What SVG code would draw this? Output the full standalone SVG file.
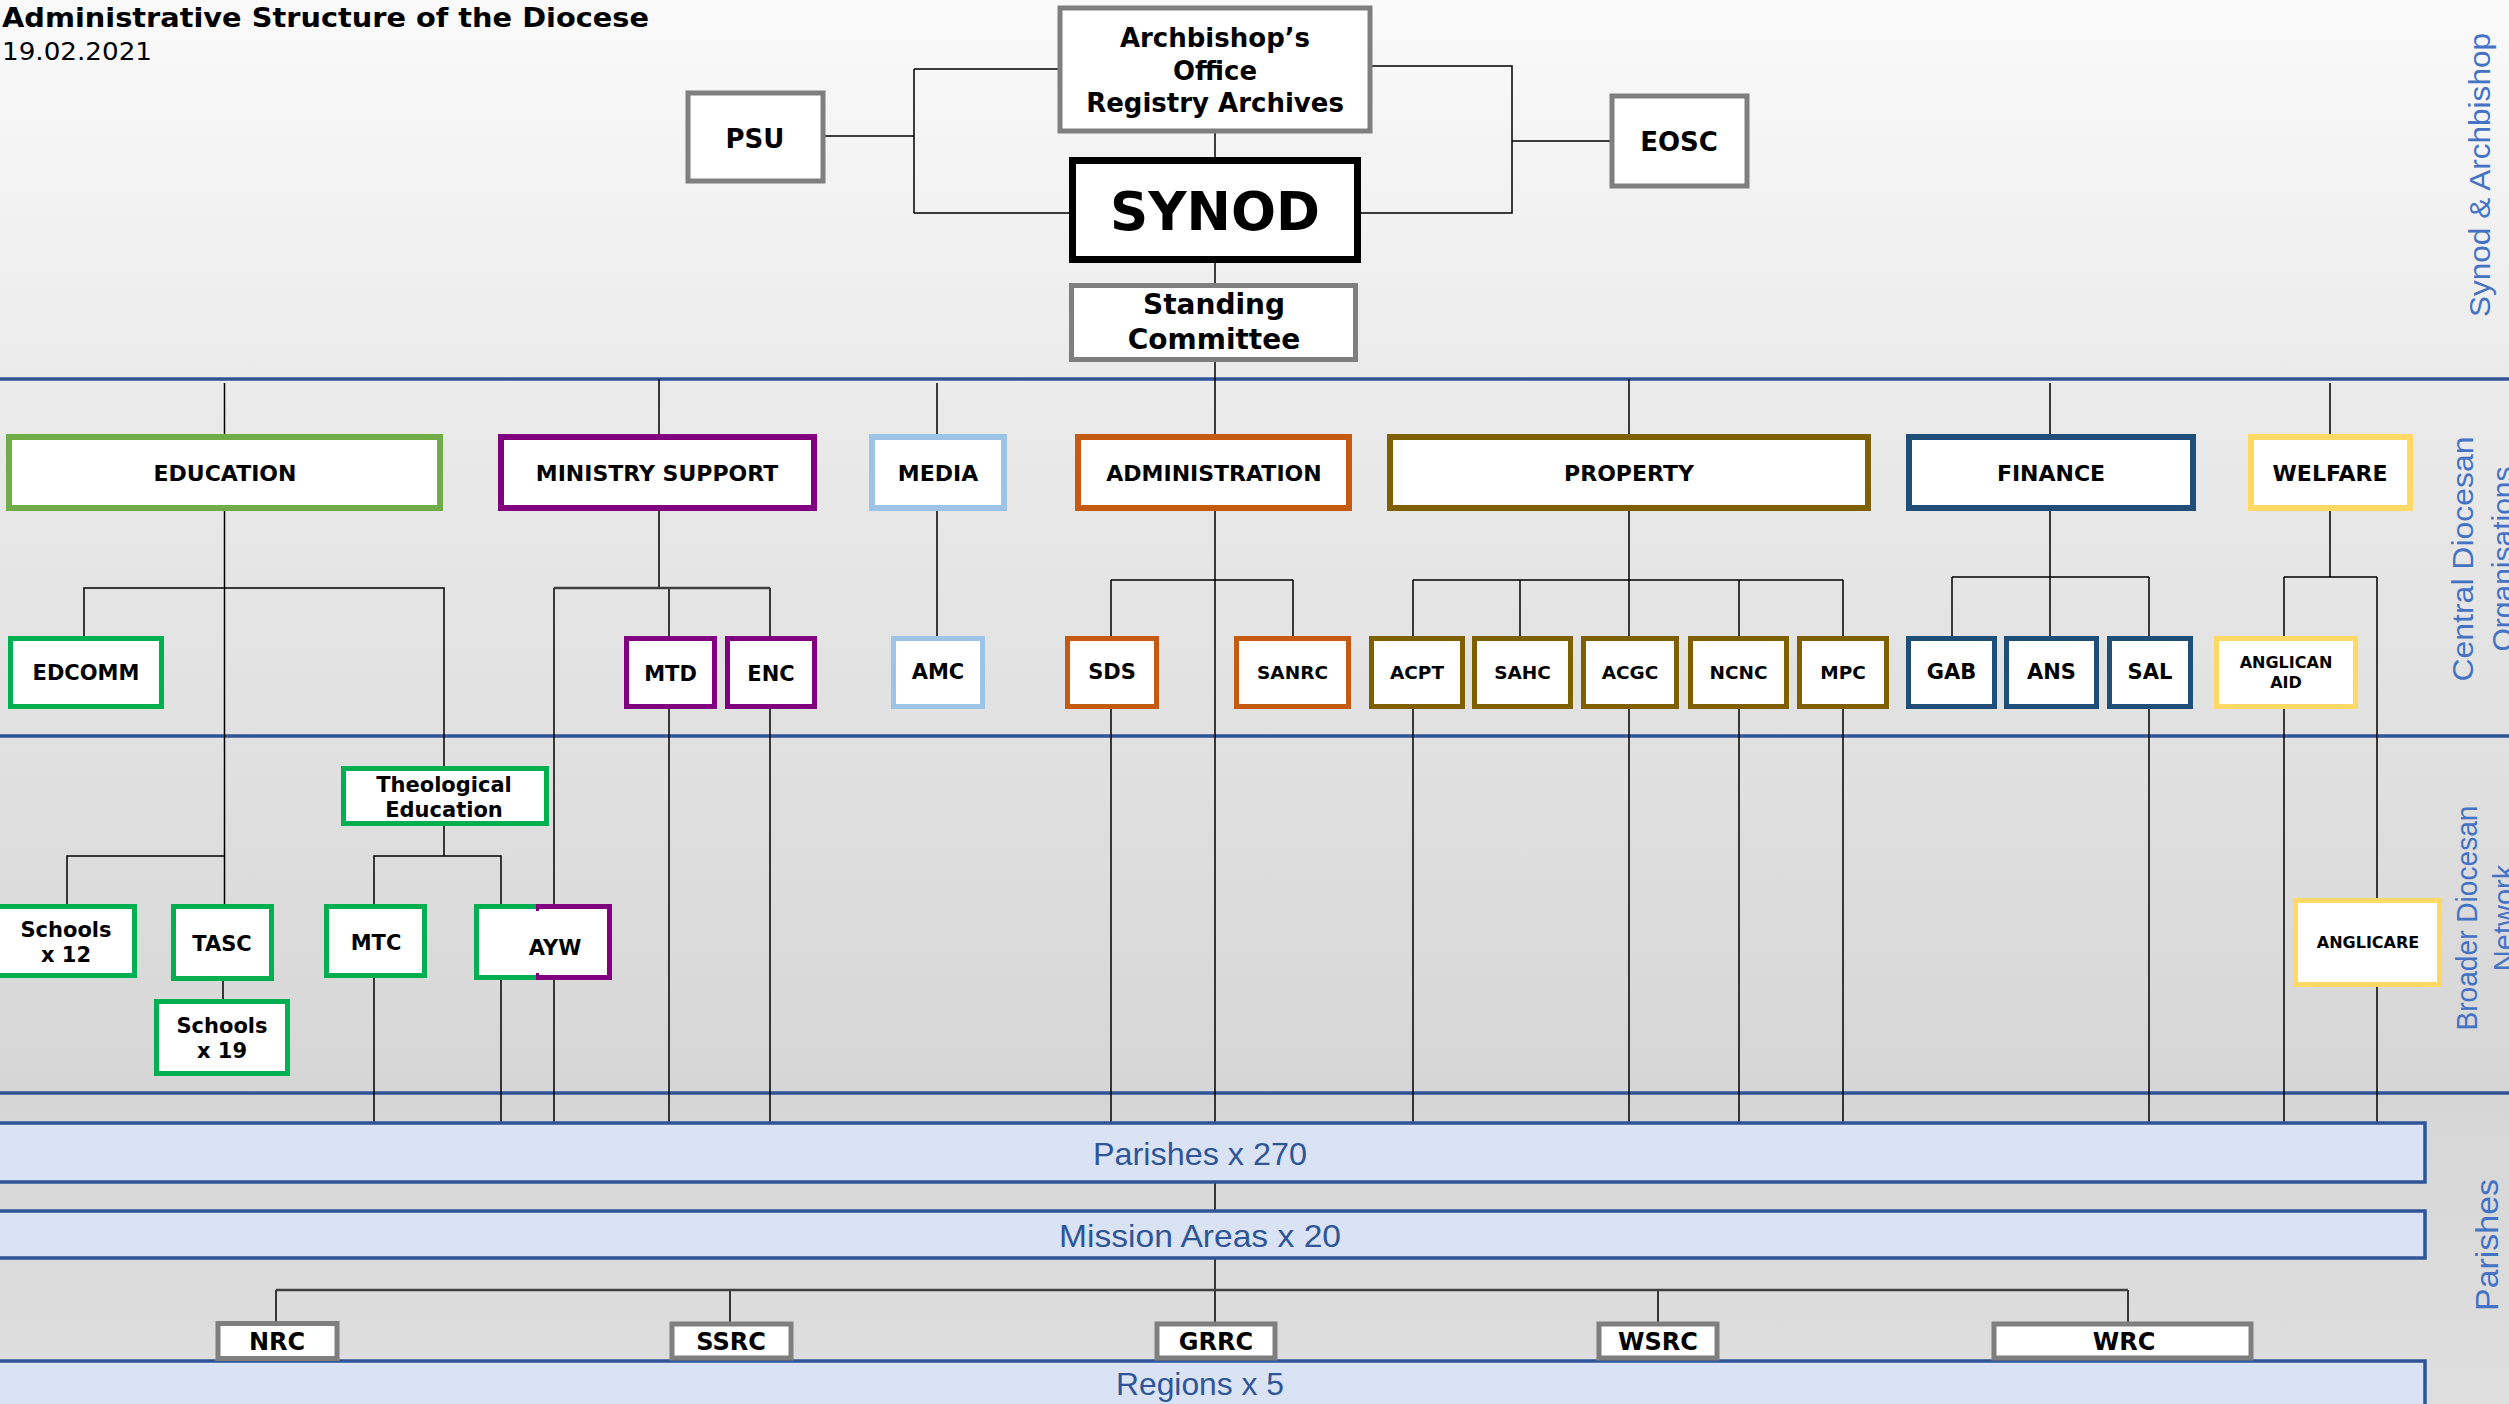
<svg xmlns="http://www.w3.org/2000/svg" width="2509" height="1404" viewBox="0 0 2509 1404">
<defs>
<linearGradient id="bg" x1="0" y1="0" x2="0" y2="1">
<stop offset="0" stop-color="#fafafa"/>
<stop offset="0.27" stop-color="#ebebeb"/>
<stop offset="0.52" stop-color="#e1e1e1"/>
<stop offset="0.78" stop-color="#d6d6d6"/>
<stop offset="0.92" stop-color="#dcdcdc"/>
<stop offset="1" stop-color="#dedede"/>
</linearGradient>
</defs>
<style>
.lbl{font-family:"DejaVu Sans",Verdana,sans-serif;font-weight:bold;text-anchor:middle;fill:#000}
.conn{stroke:#000;stroke-width:1.5;fill:none}
.bus{stroke:#404040;stroke-width:2.5;fill:none}
.band{stroke:#2f5597;stroke-width:3.5}
.side{font-family:"Liberation Sans",Arial,sans-serif;fill:#4472c4;text-anchor:middle}
.bar{fill:#dae3f3;stroke:#2f5597;stroke-width:3.5}
.bartxt{font-family:"Liberation Sans",Arial,sans-serif;fill:#2f5597;text-anchor:middle;font-size:32px}
.gray{fill:#fff;stroke:#7f7f7f;stroke-width:5}
.top{fill:#fff;stroke-width:6}
.sub{fill:#fff;stroke-width:5}
.edu{stroke:#70ad47}.grn{stroke:#00b050}.pur{stroke:#800080}.lbl2{stroke:#9dc3e6}
.org{stroke:#c55a11}.olv{stroke:#7f6000}.nav{stroke:#1f4e79}.yel{stroke:#ffd966}
</style>
<rect x="0" y="0" width="2509" height="1404" fill="url(#bg)"/>
<g id="bands">
<line class="band" x1="0" y1="379" x2="2509" y2="379"/>
<line class="band" x1="0" y1="736" x2="2509" y2="736"/>
<line class="band" x1="0" y1="1093" x2="2509" y2="1093"/>
</g>
<g id="connectors">
<path class="conn" d="M825,136 H914 M914,69 V213 M914,69 H1058 M914,213 H1070"/>
<path class="conn" d="M1372,66 H1512 V213 H1360 M1512,141 H1610"/>
<path class="conn" d="M1215,133 V158 M1215,262 V284 M1215,361 V1123"/>
<path class="conn" d="M224.5,383 V904 M84,637 V588 H444 V767 M67,905 V856 H224.5 M223,980 V1000"/>
<path class="conn" d="M444,825 V856 M374,905 V856 H501 V905 M374,977 V1123 M501,979 V1123"/>
<path class="conn" d="M659,379 V588 M669,588 V637 M770,588 V637 M554,588 V905 M554,979 V1123 M669,708 V1123 M770,708 V1123"/>
<path class="bus" d="M554,588 H770"/>
<path class="conn" d="M937,383 V637"/>
<path class="conn" d="M1111,580 H1293 M1111,580 V637 M1293,580 V637 M1111,708 V1123"/>
<path class="conn" d="M1629,379 V637 M1413,580 H1843 M1413,580 V637 M1520,580 V637 M1739,580 V637 M1843,580 V637 M1413,708 V1123 M1629,708 V1123 M1739,708 V1123 M1843,708 V1123"/>
<path class="conn" d="M2050,383 V637 M1952,577 H2149 M1952,577 V637 M2149,577 V637 M2149,708 V1123"/>
<path class="conn" d="M2330,383 V577 M2284,577 H2377 M2284,577 V637 M2284,708 V1123 M2377,577 V899 M2377,986 V1123"/>
<path class="conn" d="M1215,1182 V1211 M1215,1258 V1322 M276,1290 V1322 M730,1290 V1322 M1658,1290 V1322 M2128,1290 V1322"/>
<path class="bus" d="M276,1290 H2128"/>
</g>
<g id="title">
<text x="2" y="27" font-family="DejaVu Sans,Verdana,sans-serif" font-weight="bold" font-size="27" textLength="647" lengthAdjust="spacingAndGlyphs">Administrative Structure of the Diocese</text>
<text x="2" y="60" font-family="DejaVu Sans,Verdana,sans-serif" font-size="24" textLength="150" lengthAdjust="spacingAndGlyphs">19.02.2021</text>
</g>
<g id="archbishops-office">
<rect class="gray" x="1060" y="8" width="310" height="123"/>
<text class="lbl" font-size="26"><tspan x="1215" y="47">Archbishop’s</tspan><tspan x="1215" y="80">Office</tspan><tspan x="1215" y="112">Registry Archives</tspan></text>
</g>
<g id="psu">
<rect class="gray" x="688" y="93" width="135" height="88"/>
<text class="lbl" x="755" y="148" font-size="26">PSU</text>
</g>
<g id="eosc">
<rect class="gray" x="1612" y="96" width="135" height="90"/>
<text class="lbl" x="1679" y="151" font-size="26">EOSC</text>
</g>
<g id="synod">
<rect x="1072.5" y="160.5" width="285" height="99" fill="#fff" stroke="#000" stroke-width="7"/>
<text class="lbl" x="1215" y="230" font-size="53">SYNOD</text>
</g>
<g id="standing-committee">
<rect class="gray" x="1071.5" y="285.5" width="284" height="74"/>
<text class="lbl" font-size="28"><tspan x="1214" y="314">Standing</tspan><tspan x="1214" y="349">Committee</tspan></text>
</g>
<g id="education"><rect class="top edu" x="9" y="437" width="431" height="71"/><text class="lbl" x="225" y="481" font-size="22">EDUCATION</text></g>
<g id="ministry-support"><rect class="top pur" x="501" y="437" width="313" height="71"/><text class="lbl" x="657" y="481" font-size="22">MINISTRY SUPPORT</text></g>
<g id="media"><rect class="top lbl2" x="872" y="437" width="132" height="71"/><text class="lbl" x="938" y="481" font-size="22">MEDIA</text></g>
<g id="administration"><rect class="top org" x="1078" y="437" width="271" height="71"/><text class="lbl" x="1214" y="481" font-size="22">ADMINISTRATION</text></g>
<g id="property"><rect class="top olv" x="1390" y="437" width="478" height="71"/><text class="lbl" x="1629" y="481" font-size="22">PROPERTY</text></g>
<g id="finance"><rect class="top nav" x="1909" y="437" width="284" height="71"/><text class="lbl" x="2051" y="481" font-size="22">FINANCE</text></g>
<g id="welfare"><rect class="top yel" x="2251" y="437" width="159" height="71"/><text class="lbl" x="2330" y="481" font-size="22">WELFARE</text></g>
<g id="edcomm"><rect class="sub grn" x="10.5" y="638.5" width="151" height="68"/><text class="lbl" x="86" y="680" font-size="21">EDCOMM</text></g>
<g id="mtd"><rect class="sub pur" x="626.5" y="638.5" width="88" height="68"/><text class="lbl" x="670.5" y="681" font-size="21">MTD</text></g>
<g id="enc"><rect class="sub pur" x="727.5" y="638.5" width="87" height="68"/><text class="lbl" x="771" y="681" font-size="21">ENC</text></g>
<g id="amc"><rect class="sub lbl2" x="893.5" y="638.5" width="89" height="68"/><text class="lbl" x="938" y="679" font-size="21">AMC</text></g>
<g id="sds"><rect class="sub org" x="1067.5" y="638.5" width="89" height="68"/><text class="lbl" x="1112" y="679" font-size="21">SDS</text></g>
<g id="sanrc"><rect class="sub org" x="1236.5" y="638.5" width="112" height="68"/><text class="lbl" x="1292.5" y="679" font-size="18.5">SANRC</text></g>
<g id="acpt"><rect class="sub olv" x="1371.5" y="638.5" width="91" height="68"/><text class="lbl" x="1417" y="679" font-size="18.5">ACPT</text></g>
<g id="sahc"><rect class="sub olv" x="1474.5" y="638.5" width="96" height="68"/><text class="lbl" x="1522.5" y="679" font-size="18.5">SAHC</text></g>
<g id="acgc"><rect class="sub olv" x="1583.5" y="638.5" width="93" height="68"/><text class="lbl" x="1630" y="679" font-size="18.5">ACGC</text></g>
<g id="ncnc"><rect class="sub olv" x="1690.5" y="638.5" width="96" height="68"/><text class="lbl" x="1738.5" y="679" font-size="18.5">NCNC</text></g>
<g id="mpc"><rect class="sub olv" x="1799.5" y="638.5" width="87" height="68"/><text class="lbl" x="1843" y="679" font-size="18.5">MPC</text></g>
<g id="gab"><rect class="sub nav" x="1908.5" y="638.5" width="86" height="68"/><text class="lbl" x="1951.5" y="679" font-size="21">GAB</text></g>
<g id="ans"><rect class="sub nav" x="2006.5" y="638.5" width="90" height="68"/><text class="lbl" x="2051.5" y="679" font-size="21">ANS</text></g>
<g id="sal"><rect class="sub nav" x="2109.5" y="638.5" width="81" height="68"/><text class="lbl" x="2150" y="679" font-size="21">SAL</text></g>
<g id="anglican-aid"><rect class="sub yel" x="2216.5" y="638.5" width="139" height="68"/><text class="lbl" font-size="16"><tspan x="2286" y="668">ANGLICAN</tspan><tspan x="2286" y="688">AID</tspan></text></g>
<g id="theological-education"><rect class="sub grn" x="343.5" y="768.5" width="203" height="55"/><text class="lbl" font-size="21"><tspan x="444" y="792">Theological</tspan><tspan x="444" y="817">Education</tspan></text></g>
<g id="schools-12"><rect class="sub grn" x="-3" y="906.5" width="137.5" height="69"/><text class="lbl" font-size="21"><tspan x="66" y="937">Schools</tspan><tspan x="66" y="962">x 12</tspan></text></g>
<g id="tasc"><rect class="sub grn" x="173.5" y="906.5" width="98" height="72"/><text class="lbl" x="222" y="951" font-size="21">TASC</text></g>
<g id="schools-19"><rect class="sub grn" x="156.5" y="1001.5" width="131" height="72"/><text class="lbl" font-size="21"><tspan x="222" y="1033">Schools</tspan><tspan x="222" y="1058">x 19</tspan></text></g>
<g id="mtc"><rect class="sub grn" x="326.5" y="906.5" width="98" height="69"/><text class="lbl" x="376" y="950" font-size="21">MTC</text></g>
<g id="ayw"><rect class="sub grn" x="476.5" y="906.5" width="133" height="71"/><path d="M536,906.5 H609.5 V977.5 H536" fill="none" stroke="#800080" stroke-width="5"/><path d="M537.5,904 V911 M537.5,973 V980" stroke="#800080" stroke-width="3"/><text class="lbl" x="555" y="955" font-size="21">AYW</text></g>
<g id="anglicare"><rect class="sub yel" x="2295.5" y="900.5" width="144" height="84"/><text class="lbl" x="2368" y="948" font-size="16">ANGLICARE</text></g>
<g id="parishes"><rect class="bar" x="-5" y="1123" width="2430" height="59"/><text class="bartxt" x="1200" y="1165" textLength="214" lengthAdjust="spacingAndGlyphs">Parishes x 270</text></g>
<g id="mission-areas"><rect class="bar" x="-5" y="1211" width="2430" height="47"/><text class="bartxt" x="1200" y="1247" textLength="282" lengthAdjust="spacingAndGlyphs">Mission Areas x 20</text></g>
<g id="regions"><rect class="bar" x="-5" y="1361" width="2430" height="60"/><text class="bartxt" x="1200" y="1395" textLength="168" lengthAdjust="spacingAndGlyphs">Regions x 5</text></g>
<g id="nrc"><rect class="gray" x="218" y="1323.5" width="119" height="35"/><text class="lbl" x="277" y="1350" font-size="24">NRC</text></g>
<g id="ssrc"><rect class="gray" x="672" y="1324" width="119" height="34"/><text class="lbl" x="731" y="1350" font-size="24">SSRC</text></g>
<g id="grrc"><rect class="gray" x="1157" y="1324" width="118" height="34"/><text class="lbl" x="1216" y="1350" font-size="24">GRRC</text></g>
<g id="wsrc"><rect class="gray" x="1599" y="1324" width="118" height="34"/><text class="lbl" x="1658" y="1350" font-size="24">WSRC</text></g>
<g id="wrc"><rect class="gray" x="1994" y="1324" width="257" height="34"/><text class="lbl" x="2124" y="1350" font-size="24">WRC</text></g>
<g id="side-labels">
<text class="side" font-size="30" transform="translate(2490,175) rotate(-90)" textLength="284" lengthAdjust="spacingAndGlyphs">Synod &amp; Archbishop</text>
<text class="side" font-size="30" transform="translate(2473,559) rotate(-90)" textLength="245" lengthAdjust="spacingAndGlyphs">Central Diocesan</text>
<text class="side" font-size="30" transform="translate(2513,559) rotate(-90)">Organisations</text>
<text class="side" font-size="29" transform="translate(2477,918) rotate(-90)" textLength="225" lengthAdjust="spacingAndGlyphs">Broader Diocesan</text>
<text class="side" font-size="29" transform="translate(2514,918) rotate(-90)">Network</text>
<text class="side" font-size="32" transform="translate(2498,1245) rotate(-90)" textLength="132" lengthAdjust="spacingAndGlyphs">Parishes</text>
</g>
</svg>
